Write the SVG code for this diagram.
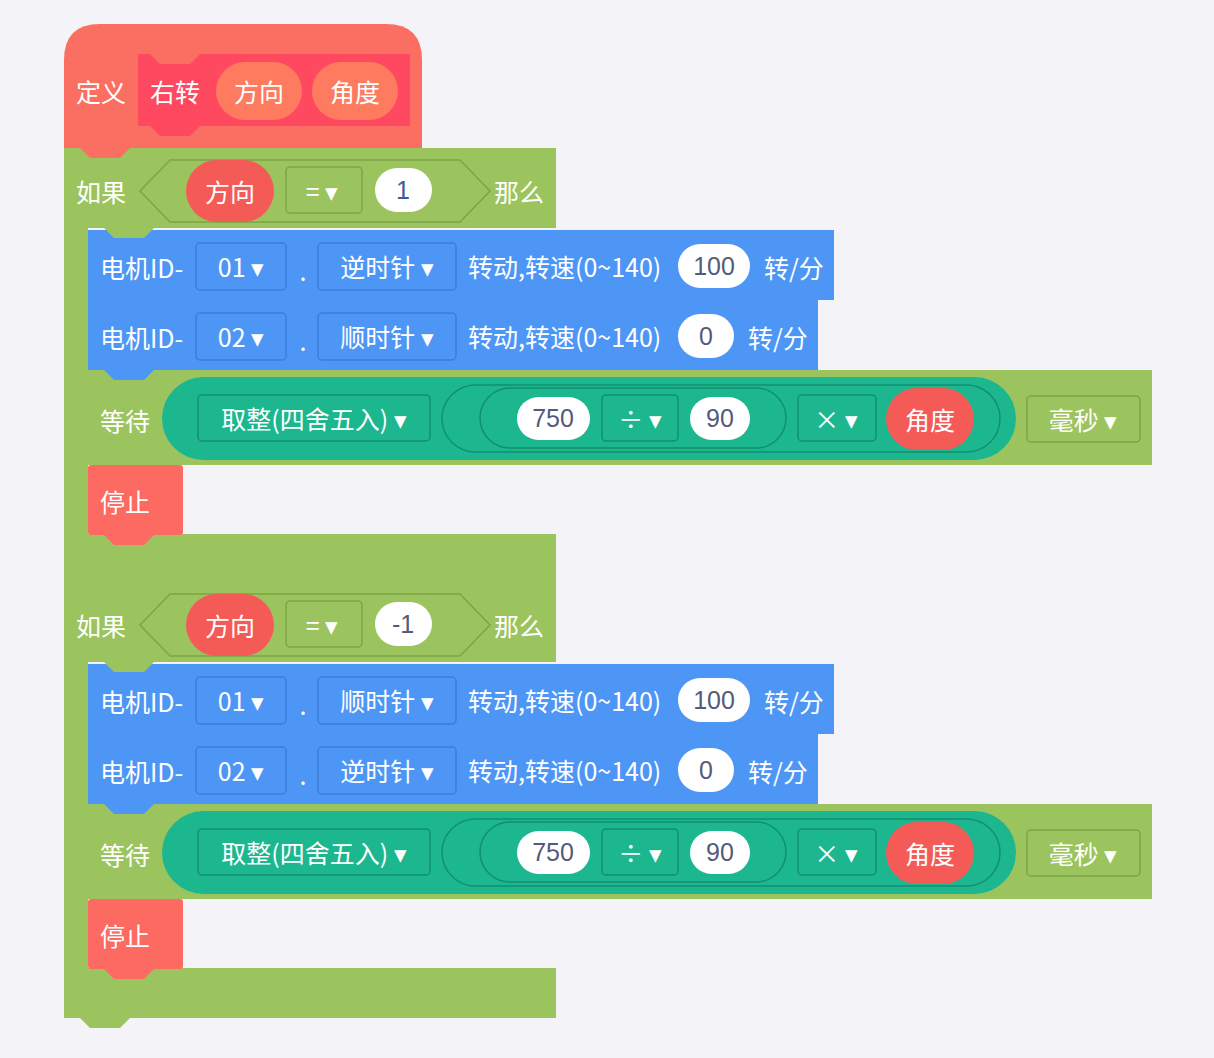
<svg xmlns="http://www.w3.org/2000/svg" width="1214" height="1058" viewBox="0 0 1214 1058">
<style>
text{font-family:"Noto Sans CJK SC","Liberation Sans",sans-serif;font-size:25px;fill:#fff;dominant-baseline:central}
.g{fill:#9cc45e}.b{fill:#4e96f6}.t{fill:#1cb78f}.dd{fill:none;stroke:#128f6e;stroke-width:1.5}
.gd{fill:none;stroke:#7ea445;stroke-width:1.5}.bd{fill:none;stroke:#3a7ed8;stroke-width:1.5}
.w{fill:#fff}.dk{fill:#555a78;font-family:"Liberation Sans",sans-serif}
.r{fill:#f45b57}.s{fill:#fc6a61}
</style>
<defs>
<path id="tab" d="M0,0 L10,10 H40 L50,0 Z"/>
</defs>
<rect width="1214" height="1058" fill="#f4f4f8"/>
<g id="define">
<path d="M64,148 V60 Q64,24 100,24 H386 Q422,24 422,60 V148 Z" fill="#fb6f63"/>
<path d="M138,54 H150 L160,64 H190 L200,54 H410 V126 H200 L190,136 H160 L150,126 H138 Z" fill="#ff4960"/>
<text x="76" y="91">定义</text><text x="150" y="91">右转</text>
<rect x="216" y="62" width="86" height="58" rx="29" fill="#fe7b5f"/><text x="259" y="91" text-anchor="middle">方向</text>
<rect x="312" y="62" width="86" height="58" rx="29" fill="#fe7b5f"/><text x="355" y="91" text-anchor="middle">角度</text>
</g>
<g id="if1">
<path d="M64,148 H556 V228 H88 V534 H556 V582 H64 Z" class="g"/>
<polygon points="140,191 170,160 460,160 490,191 460,222 170,222" class="gd"/>
<text x="76" y="191">如果</text>
<rect x="186" y="160" width="88" height="62" rx="31" class="r"/><text x="230" y="191" text-anchor="middle">方向</text>
<rect x="286" y="167" width="76" height="46" rx="4" class="gd"/><text x="322" y="190" text-anchor="middle">= ▾</text>
<rect x="375" y="168" width="57" height="44" rx="22" class="w"/><text x="403" y="190" text-anchor="middle" class="dk" style="fill:#3d5a99">1</text>
<text x="494" y="191">那么</text>
</g>
<g id="motor1a">
<rect x="88" y="230" width="746" height="70" class="b"/>
<text x="100" y="267">电机ID-</text>
<rect x="196" y="243" width="90" height="47" rx="4" class="bd"/><text x="241" y="266" text-anchor="middle">01 ▾</text>
<text x="303" y="270" text-anchor="middle">.</text>
<rect x="318" y="243" width="138" height="47" rx="4" class="bd"/><text x="387" y="266" text-anchor="middle">逆时针 ▾</text>
<text x="468" y="266">转动,转速(0~140)</text>
<rect x="678" y="244" width="72" height="44" rx="22" class="w"/><text x="714" y="266" text-anchor="middle" class="dk">100</text>
<text x="764" y="267">转/分</text>
</g>
<g id="motor1b">
<rect x="88" y="300" width="730" height="70" class="b"/>
<text x="100" y="337">电机ID-</text>
<rect x="196" y="313" width="90" height="47" rx="4" class="bd"/><text x="241" y="336" text-anchor="middle">02 ▾</text>
<text x="303" y="340" text-anchor="middle">.</text>
<rect x="318" y="313" width="138" height="47" rx="4" class="bd"/><text x="387" y="336" text-anchor="middle">顺时针 ▾</text>
<text x="468" y="336">转动,转速(0~140)</text>
<rect x="678" y="314" width="56" height="44" rx="22" class="w"/><text x="706" y="336" text-anchor="middle" class="dk">0</text>
<text x="748" y="337">转/分</text>
</g>
<g id="wait1">
<rect x="88" y="370" width="1064" height="95" class="g"/>
<text x="100" y="420">等待</text>
<rect x="162" y="377" width="854" height="83" rx="41.5" class="t"/>
<rect x="198" y="395" width="232" height="46" rx="4" class="dd"/><text x="314" y="418" text-anchor="middle">取整(四舍五入) ▾</text>
<rect x="442" y="385" width="558" height="67" rx="33.5" class="dd"/>
<rect x="480" y="388" width="306" height="60" rx="30" class="dd"/>
<rect x="517" y="397" width="73" height="43" rx="21.5" class="w"/><text x="553" y="418" text-anchor="middle" class="dk">750</text>
<rect x="602" y="395" width="76" height="46" rx="4" class="dd"/><text x="640" y="418" text-anchor="middle">÷ ▾</text>
<rect x="690" y="397" width="60" height="43" rx="21.5" class="w"/><text x="720" y="418" text-anchor="middle" class="dk">90</text>
<rect x="798" y="395" width="78" height="46" rx="4" class="dd"/><text x="836" y="418" text-anchor="middle">× ▾</text>
<rect x="886" y="388" width="88" height="62" rx="31" class="r"/><text x="930" y="419" text-anchor="middle">角度</text>
<rect x="1027" y="396" width="113" height="46" rx="4" class="gd"/><text x="1083" y="419" text-anchor="middle">毫秒 ▾</text>
</g>
<g id="stop1">
<rect x="88" y="465" width="95" height="70" rx="3" class="s"/>
<text x="100" y="501">停止</text>
</g>
<g transform="translate(0,434)">
<g id="if2">
<path d="M64,148 H556 V228 H88 V534 H556 V584 H64 Z" class="g"/>
<polygon points="140,191 170,160 460,160 490,191 460,222 170,222" class="gd"/>
<text x="76" y="191">如果</text>
<rect x="186" y="160" width="88" height="62" rx="31" class="r"/><text x="230" y="191" text-anchor="middle">方向</text>
<rect x="286" y="167" width="76" height="46" rx="4" class="gd"/><text x="322" y="190" text-anchor="middle">= ▾</text>
<rect x="375" y="168" width="57" height="44" rx="22" class="w"/><text x="403" y="190" text-anchor="middle" class="dk">-1</text>
<text x="494" y="191">那么</text>
</g>
<g id="motor2a">
<rect x="88" y="230" width="746" height="70" class="b"/>
<text x="100" y="267">电机ID-</text>
<rect x="196" y="243" width="90" height="47" rx="4" class="bd"/><text x="241" y="266" text-anchor="middle">01 ▾</text>
<text x="303" y="270" text-anchor="middle">.</text>
<rect x="318" y="243" width="138" height="47" rx="4" class="bd"/><text x="387" y="266" text-anchor="middle">顺时针 ▾</text>
<text x="468" y="266">转动,转速(0~140)</text>
<rect x="678" y="244" width="72" height="44" rx="22" class="w"/><text x="714" y="266" text-anchor="middle" class="dk">100</text>
<text x="764" y="267">转/分</text>
</g>
<g id="motor2b">
<rect x="88" y="300" width="730" height="70" class="b"/>
<text x="100" y="337">电机ID-</text>
<rect x="196" y="313" width="90" height="47" rx="4" class="bd"/><text x="241" y="336" text-anchor="middle">02 ▾</text>
<text x="303" y="340" text-anchor="middle">.</text>
<rect x="318" y="313" width="138" height="47" rx="4" class="bd"/><text x="387" y="336" text-anchor="middle">逆时针 ▾</text>
<text x="468" y="336">转动,转速(0~140)</text>
<rect x="678" y="314" width="56" height="44" rx="22" class="w"/><text x="706" y="336" text-anchor="middle" class="dk">0</text>
<text x="748" y="337">转/分</text>
</g>
<g id="wait2">
<rect x="88" y="370" width="1064" height="95" class="g"/>
<text x="100" y="420">等待</text>
<rect x="162" y="377" width="854" height="83" rx="41.5" class="t"/>
<rect x="198" y="395" width="232" height="46" rx="4" class="dd"/><text x="314" y="418" text-anchor="middle">取整(四舍五入) ▾</text>
<rect x="442" y="385" width="558" height="67" rx="33.5" class="dd"/>
<rect x="480" y="388" width="306" height="60" rx="30" class="dd"/>
<rect x="517" y="397" width="73" height="43" rx="21.5" class="w"/><text x="553" y="418" text-anchor="middle" class="dk">750</text>
<rect x="602" y="395" width="76" height="46" rx="4" class="dd"/><text x="640" y="418" text-anchor="middle">÷ ▾</text>
<rect x="690" y="397" width="60" height="43" rx="21.5" class="w"/><text x="720" y="418" text-anchor="middle" class="dk">90</text>
<rect x="798" y="395" width="78" height="46" rx="4" class="dd"/><text x="836" y="418" text-anchor="middle">× ▾</text>
<rect x="886" y="388" width="88" height="62" rx="31" class="r"/><text x="930" y="419" text-anchor="middle">角度</text>
<rect x="1027" y="396" width="113" height="46" rx="4" class="gd"/><text x="1083" y="419" text-anchor="middle">毫秒 ▾</text>
</g>
<g id="stop2">
<rect x="88" y="465" width="95" height="70" rx="3" class="s"/>
<text x="100" y="501">停止</text>
</g>
</g>
<g id="connectors">
<use href="#tab" x="80" y="148" fill="#fb6f63"/>
<use href="#tab" x="104" y="228" class="g"/>
<use href="#tab" x="104" y="300" class="b"/>
<use href="#tab" x="104" y="370" class="b"/>
<use href="#tab" x="104" y="535" class="s"/>
<use href="#tab" x="80" y="582" class="g"/>
<use href="#tab" x="104" y="662" class="g"/>
<use href="#tab" x="104" y="734" class="b"/>
<use href="#tab" x="104" y="804" class="b"/>
<use href="#tab" x="104" y="969" class="s"/>
<use href="#tab" x="80" y="1018" class="g"/>
</g>
</svg>
